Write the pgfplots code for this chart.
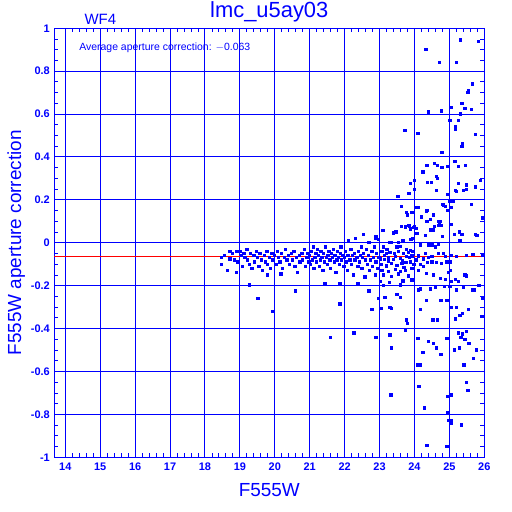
\documentclass[border=0pt]{standalone}
\usepackage{fontspec}
\setmainfont{Liberation Sans}
\usepackage{pgfplots}
\pgfplotsset{compat=1.18}
\definecolor{pblue}{RGB}{0,0,255}
\definecolor{pred}{RGB}{255,0,0}
\begin{document}
\begin{tikzpicture}
\useasboundingbox (-54.3bp,-54.7bp) rectangle (457.7bp,457.3bp);
\begin{axis}[
  scale only axis, width=430bp, height=429bp,
  xmin=13.685, xmax=26, ymin=-1, ymax=1,
  axis line style={pblue, line width=1.2bp},
  grid=major, major grid style={pblue, line width=1bp},
  xtick={14,...,26}, ytick={-1,-0.8,-0.6,-0.4,-0.2,0,0.2,0.4,0.6,0.8,1},
  minor x tick num=4, minor y tick num=3,
  tick align=inside, tick pos=both,
  major tick length=0bp, minor tick length=4bp,
  every tick/.style={pblue, line width=0.9bp},
  tick label style={font=\fontsize{11}{12}\selectfont\bfseries, text=pblue},
  /pgf/number format/assume math mode=true,
  xticklabel style={yshift=-2bp},
  yticklabel style={xshift=-1bp},
  xlabel={F555W}, ylabel={F555W aperture correction},
  label style={font=\fontsize{19}{21}\selectfont, text=pblue},
  xlabel style={yshift=-6bp},
  ylabel style={yshift=-1bp},
  title={lmc\_u5ay03}, title style={font=\fontsize{22}{24}\selectfont, text=pblue, yshift=-3bp},
  clip=false,
]
\addplot[only marks, mark=square*, mark size=1.15bp, color=pblue, mark options={line width=0bp}] coordinates {
(18.48,-0.07)(18.48,-0.10)(18.55,-0.06)(18.65,-0.13)(18.72,-0.075)(18.72,-0.04)(18.78,-0.05)(18.85,-0.08)(18.9,-0.04)(18.95,-0.09)
(19.0,-0.04)(19.05,-0.06)(19.08,-0.11)(19.12,-0.05)(19.15,-0.07)(19.2,-0.03)(19.22,-0.08)(19.28,-0.10)(19.3,-0.05)(19.35,-0.12)
(19.4,-0.06)(19.42,-0.09)(19.47,-0.04)(19.5,-0.07)(19.55,-0.11)(19.58,-0.05)(19.62,-0.08)(19.65,-0.13)(19.7,-0.06)(19.73,-0.09)
(19.78,-0.04)(19.8,-0.10)(19.85,-0.07)(19.88,-0.12)(19.92,-0.05)(19.95,-0.08)(20.0,-0.06)(20.05,-0.10)(20.08,-0.04)(20.1,-0.07)
(20.15,-0.09)(20.2,-0.05)(20.22,-0.12)(20.28,-0.07)(20.3,-0.03)(20.35,-0.08)(20.4,-0.06)(20.42,-0.10)(20.48,-0.05)(20.5,-0.08)
(20.55,-0.04)(20.58,-0.11)(20.62,-0.07)(20.65,-0.14)(20.7,-0.06)(20.72,-0.09)(20.78,-0.05)(20.8,-0.08)(20.85,-0.03)(20.88,-0.11)
(20.92,-0.07)(20.95,-0.05)(20.98,-0.09)
(19.27,-0.197)(19.52,-0.26)(19.95,-0.32)(20.6,-0.225)(19.8,-0.15)(20.18,-0.145)(18.9,-0.14)
(21.0,-0.06)(21.02,-0.1)(21.05,-0.04)(21.08,-0.08)(21.1,-0.02)(21.12,-0.12)(21.15,-0.07)(21.18,-0.05)(21.2,-0.09)(21.22,-0.03)
(21.25,-0.06)(21.28,-0.11)(21.3,-0.08)(21.32,-0.04)(21.35,-0.07)(21.38,-0.13)(21.4,-0.05)(21.42,-0.09)(21.45,-0.02)(21.48,-0.07)
(21.5,-0.1)(21.52,-0.06)(21.55,-0.04)(21.58,-0.08)(21.6,-0.12)(21.62,-0.05)(21.65,-0.07)(21.68,-0.03)(21.7,-0.09)(21.72,-0.06)
(21.75,-0.14)(21.78,-0.08)(21.8,-0.04)(21.82,-0.07)(21.85,-0.1)(21.88,-0.05)(21.9,-0.02)(21.92,-0.08)(21.95,-0.06)(21.98,-0.11)
(22.0,-0.07)(22.02,-0.04)(22.05,-0.09)(22.08,-0.13)(22.1,-0.06)(22.12,0.01)(22.15,-0.08)(22.18,-0.03)(22.2,-0.1)(22.22,-0.06)
(22.25,-0.15)(22.28,-0.05)(22.3,-0.08)(22.32,0.02)(22.35,-0.07)(22.38,-0.11)(22.4,-0.04)(22.42,-0.09)(22.45,-0.06)(22.48,-0.02)
(22.5,-0.12)(22.52,-0.07)(22.55,-0.05)(22.58,-0.16)(22.6,-0.08)(22.62,-0.03)(22.65,-0.1)(22.68,-0.06)(22.7,0.0)(22.72,-0.13)
(22.75,-0.08)(22.78,-0.04)(22.8,-0.11)(22.82,-0.07)(22.85,-0.02)(22.88,-0.15)(22.9,-0.09)(22.92,-0.05)(22.95,-0.12)(22.98,-0.07)
(21.87,-0.285)(22.27,-0.42)(21.59,-0.44)(22.78,-0.31)(22.7,-0.225)(21.87,-0.19)(21.44,-0.19)(22.38,-0.19)(22.9,0.03)(22.55,0.04)
(23.1,0.056)(23.4,0.045)(23.47,0.05)(23.74,0.07)(23.83,0.08)(23.88,0.065)(23.98,0.07)(24.05,0.068)(22.88,0.02)(22.97,0.015)
(23.3,0.0)(23.35,0.0)(23.55,0.0)(23.67,0.01)(23.9,0.015)(23.95,0.02)(23.12,-0.02)(23.21,-0.03)(23.5,-0.02)(23.6,-0.018)
(23.78,-0.03)(23.88,-0.035)(23.07,-0.04)(23.19,-0.05)(23.3,-0.045)(23.43,-0.05)(23.55,-0.04)(23.69,-0.05)(23.83,-0.045)(23.96,-0.04)
(23.02,-0.075)(23.14,-0.078)(23.26,-0.07)(23.4,-0.078)(23.59,-0.073)(23.78,-0.065)(23.93,-0.062)(23.05,-0.1)(23.19,-0.105)(23.35,-0.095)
(23.5,-0.105)(23.64,-0.097)(23.76,-0.093)(23.88,-0.09)(23.99,-0.1)(23.07,-0.128)(23.26,-0.135)(23.45,-0.124)(23.59,-0.135)(23.74,-0.128)
(23.93,-0.12)(23.12,-0.15)(23.35,-0.158)(23.54,-0.146)(23.83,-0.155)(23.02,-0.18)(23.28,-0.185)(23.67,-0.178)(23.93,-0.174)(23.12,-0.2)
(23.59,-0.197)(22.97,-0.26)(23.04,-0.305)(23.16,-0.255)(23.3,-0.30)(23.35,-0.305)(23.5,-0.24)(23.59,-0.255)(23.78,-0.36)(23.8,-0.375)
(23.74,-0.41)(23.3,-0.43)(23.35,-0.49)(22.9,-0.44)(23.33,-0.71)(23.34,-0.71)
(24.12,-0.22)(24.17,-0.215)(24.34,-0.27)(24.17,-0.31)(24.53,-0.36)(24.66,-0.36)(24.76,-0.27)(24.93,-0.27)(24.6,-0.21)(24.45,-0.215)
(24.86,-0.205)(24.1,-0.445)(24.4,-0.46)(24.55,-0.47)(24.64,-0.49)(24.76,-0.52)(24.93,-0.445)(24.26,-0.51)(24.1,-0.57)(24.13,-0.67)
(24.28,-0.77)(24.36,-0.945)(24.93,-0.95)(24.96,-0.715)(25.03,-0.71)(24.96,-0.79)(24.99,-0.83)(24.24,-0.51)(24.15,-0.67)(24.18,-0.57)
(24.17,-0.1)(24.26,-0.11)(24.37,-0.093)(24.5,-0.09)(24.64,-0.093)(24.78,-0.095)(24.93,-0.09)(24.12,-0.128)(24.34,-0.143)(24.55,-0.15)
(24.74,-0.165)(24.88,-0.172)(24.97,-0.14)(24.12,-0.062)(24.31,-0.05)(24.5,-0.065)(24.69,-0.05)(24.83,-0.05)(24.88,-0.065)(24.17,-0.01)
(24.45,-0.003)(24.69,-0.006)(24.07,0.043)(24.31,0.035)(24.55,0.06)(24.81,0.03)(24.36,0.1)(24.45,0.06)(24.78,0.08)(24.74,0.1)
(25.02,-0.205)(25.2,-0.22)(25.4,-0.21)(25.71,-0.22)(25.86,-0.2)(25.07,-0.3)(25.2,-0.3)(25.3,-0.34)(25.18,-0.355)(25.38,-0.33)
(25.55,-0.31)(25.93,-0.345)(25.26,-0.42)(25.38,-0.425)(25.5,-0.415)(25.33,-0.44)(25.45,-0.45)(25.56,-0.47)(25.14,-0.5)(25.28,-0.49)
(25.78,-0.5)(25.42,-0.57)(25.5,-0.65)(25.53,-0.69)(25.35,-0.85)(25.05,-0.83)(25.36,0.04)(25.15,0.04)(25.79,0.035)(25.03,-0.09)
(25.03,-0.13)(25.05,-0.18)(25.45,-0.15)(25.5,-0.155)(25.18,-0.17)(25.26,-0.18)(25.05,-0.06)(25.2,-0.065)(25.5,-0.06)(25.68,-0.055)
(25.95,-0.057)(25.85,-0.2)(25.68,-0.22)(25.7,-0.54)(25.95,-0.26)(25.05,-0.71)(24.95,-0.79)(25.05,-0.84)(24.35,-0.945)(24.95,-0.95)
(23.73,0.525)(24.1,0.51)(24.12,0.51)(24.4,0.61)(24.33,0.90)(24.71,0.84)(25.2,0.84)(25.31,0.945)(25.83,0.94)(25.67,0.74)
(25.55,0.71)(25.53,0.70)(25.36,0.65)(25.45,0.625)(25.64,0.62)(25.05,0.63)(24.77,0.615)(25.02,0.57)(25.27,0.57)(25.31,0.60)
(25.18,0.54)(25.17,0.53)(25.74,0.505)(25.38,0.46)(25.36,0.45)(24.79,0.42)(25.16,0.38)(24.36,0.36)(24.57,0.37)(24.66,0.36)
(24.79,0.35)(24.95,0.355)(25.27,0.355)(25.47,0.36)(24.24,0.33)(24.64,0.31)(24.66,0.30)(24.38,0.28)(24.49,0.28)(23.88,0.275)
(24.0,0.29)(24.0,0.25)(24.64,0.245)(24.95,0.225)(25.26,0.275)(25.5,0.27)(25.4,0.245)(25.5,0.25)(25.17,0.245)(25.2,0.24)
(25.74,0.26)(25.9,0.29)(23.53,0.215)(23.84,0.23)(23.63,0.17)(23.78,0.14)(23.8,0.13)(23.93,0.14)(24.05,0.165)(24.1,0.165)
(24.2,0.12)(24.35,0.145)(24.45,0.11)(24.55,0.13)(24.7,0.1)(24.72,0.095)(24.82,0.18)(24.84,0.175)(24.95,0.15)(25.0,0.195)
(25.1,0.195)(25.06,0.165)(25.64,0.18)(25.96,0.115)(23.63,0.075)(23.74,0.073)(23.85,0.078)(24.0,0.075)(24.57,0.075)(24.7,0.08)
(25.06,0.085)(25.28,0.05)(25.74,0.04)(24.36,0.15)(24.88,0.17)(25.3,0.01)(24.6,-0.02)(24.4,-0.01)(24.5,-0.01)
(23.15,-0.06)(23.25,-0.085)(23.45,-0.065)(23.65,-0.085)(23.85,-0.07)(24.05,-0.08)(24.25,-0.075)(24.4,-0.07)(23.2,-0.11)(23.7,-0.115)
};
\addplot[pred, line width=1.3bp, forget plot] coordinates {(13.685,-0.063) (26,-0.063)};
\node[anchor=west, font=\fontsize{10.5}{12}\selectfont, text=pblue] at (rel axis cs:0.05,0.955) {Average aperture correction: $-$0.063};
\node[anchor=south, font=\fontsize{15}{17}\selectfont, text=pblue] at (rel axis cs:0.107,1.0) {WF4};
\end{axis}
\end{tikzpicture}
\end{document}
